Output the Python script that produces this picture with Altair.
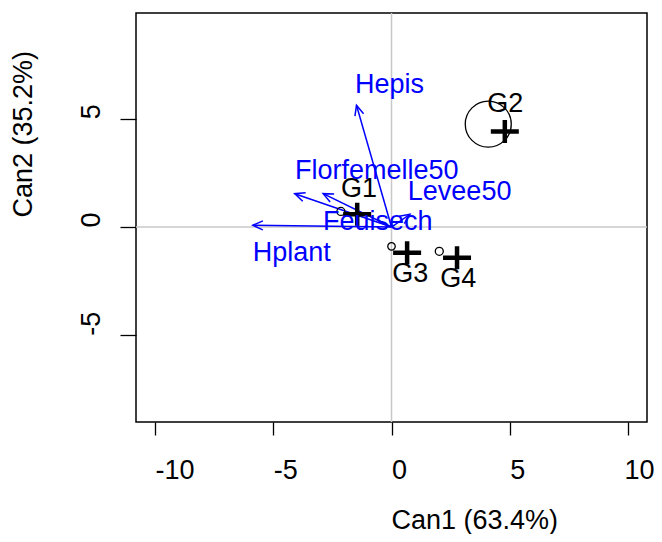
import math
import altair as alt
import pandas as pd

# ---- data ----
var_names = ["Hplant", "Hepis", "Florfemelle50", "Feuisech", "Levee50"]
var_x = [-5.86, -1.48, -4.09, -2.89, 0.78]
var_y = [0.08, 5.62, 1.54, 1.54, 0.59]
var_lab_x = [-5.87, -1.54, -4.08, -2.90, 0.69]
var_lab_y = [-1.57, 6.17, 2.20, -0.15, 1.26]

groups = ["G1", "G2", "G3", "G4"]
grp_x = [-1.45, 4.79, 0.66, 2.77]
grp_y = [0.59, 4.41, -1.19, -1.42]
grp_lab_x = [-2.13, 4.05, 0.03, 2.06]
grp_lab_y = [1.38, 5.31, -2.54, -2.77]
circ_x = [-2.14, 4.09, 0.0, 2.02]
circ_y = [0.72, 4.75, -0.89, -1.12]
circ_size = [64, 2116, 56, 64]

x_ticks = [-10, -5, 0, 5, 10]
y_ticks = [-5, 0, 5]
x_dom = [-10.8, 10.8]
y_dom = [-9.0, 9.88]

W, H = 511, 409
FONT = "Liberation Sans"
FS = 27

ppx = W / (x_dom[1] - x_dom[0])
ppy = H / (y_dom[1] - y_dom[0])
angles = [math.degrees(math.atan2(-yy * ppy, xx * ppx)) % 360 for xx, yy in zip(var_x, var_y)]

arrows = pd.DataFrame({"name": var_names, "x": var_x, "y": var_y,
                       "x0": [0.0] * len(var_x), "y0": [0.0] * len(var_y),
                       "lx": var_lab_x, "ly": var_lab_y, "ang": angles})
grp = pd.DataFrame({"g": groups, "x": grp_x, "y": grp_y, "lx": grp_lab_x, "ly": grp_lab_y,
                    "cx": circ_x, "cy": circ_y, "cs": circ_size})
zero = pd.DataFrame({"v": [0]})

xs = alt.Scale(domain=x_dom, nice=False, zero=False)
ys = alt.Scale(domain=y_dom, nice=False, zero=False)

x_axis = alt.Axis(values=x_ticks, title="Can1 (63.4%)", grid=False, domain=False,
                  tickSize=13, tickColor="black", tickWidth=1.3,
                  labelExpr="'' + datum.value",
                  labelOffset={"condition": {"test": "datum.value == 10", "value": -4}, "value": 0},
                  labelAlign="left", labelBaseline="alphabetic", labelPadding=43,
                  labelFlush=False, labelOverlap=False, labelBound=False,
                  titleAlign="left", titleAnchor="start", titleX=255, titleY=106,
                  titleBaseline="alphabetic", titleAngle=0)
y_axis = alt.Axis(values=y_ticks, title="Can2 (35.2%)", grid=False, domain=False,
                  tickSize=16, tickColor="black", tickWidth=1.3,
                  labelExpr="'' + datum.value",
                  labelAngle=270, labelAlign="left", labelBaseline="alphabetic", labelPadding=21,
                  labelFlush=False, labelOverlap=False, labelBound=False,
                  titleAlign="left", titleAnchor="start", titleX=-105, titleY=204,
                  titleBaseline="alphabetic", titleAngle=270)

vline = alt.Chart(zero).mark_rule(color="#C8C8C8", strokeWidth=1.5).encode(
    x=alt.X("v:Q", scale=xs, axis=x_axis))
hline = alt.Chart(zero).mark_rule(color="#C8C8C8", strokeWidth=1.5).encode(
    y=alt.Y("v:Q", scale=ys, axis=y_axis))

arrow_lines = alt.Chart(arrows).mark_rule(color="#0000FF", strokeWidth=1.5).encode(
    x=alt.X("x0:Q", scale=xs), y=alt.Y("y0:Q", scale=ys), x2="x:Q", y2="y:Q")
arrow_heads = alt.Chart(arrows).mark_point(
    shape="M-1,-0.45L0,0L-1,0.45", filled=False, color="#0000FF", strokeWidth=1.5,
    size=400, opacity=1).encode(
    x=alt.X("x:Q", scale=xs), y=alt.Y("y:Q", scale=ys), angle=alt.Angle("ang:Q", scale=None))
arrow_text = alt.Chart(arrows).mark_text(
    align="left", baseline="alphabetic", font=FONT, fontSize=FS, color="#0000FF").encode(
    x=alt.X("lx:Q", scale=xs), y=alt.Y("ly:Q", scale=ys), text="name:N")

circles = alt.Chart(grp).mark_point(shape="circle", filled=False, color="black",
                                    strokeWidth=1.3, opacity=1).encode(
    x=alt.X("cx:Q", scale=xs), y=alt.Y("cy:Q", scale=ys),
    size=alt.Size("cs:Q", scale=None))
crosses = alt.Chart(grp).mark_point(shape="M-1,0L1,0M0,-0.82L0,0.82", filled=False,
                                    color="black", strokeWidth=4.5, size=784, opacity=1).encode(
    x=alt.X("x:Q", scale=xs), y=alt.Y("y:Q", scale=ys))
grp_text = alt.Chart(grp).mark_text(
    align="left", baseline="alphabetic", font=FONT, fontSize=FS, color="black").encode(
    x=alt.X("lx:Q", scale=xs), y=alt.Y("ly:Q", scale=ys), text="g:N")

chart = alt.layer(vline, hline, arrow_lines, arrow_heads, circles, crosses, grp_text, arrow_text).properties(
    width=W, height=H,
    padding={"left": 128, "top": 5, "right": 7, "bottom": 112},
    autosize=alt.AutoSizeParams(type="none"),
).configure_view(stroke="black", strokeWidth=1.5).configure_axis(
    labelFont=FONT, labelFontSize=FS, labelColor="black",
    titleFont=FONT, titleFontSize=FS, titleFontWeight="normal", titleColor="black",
)

chart.save("out.html", embed_options={"renderer": "svg", "actions": False})
